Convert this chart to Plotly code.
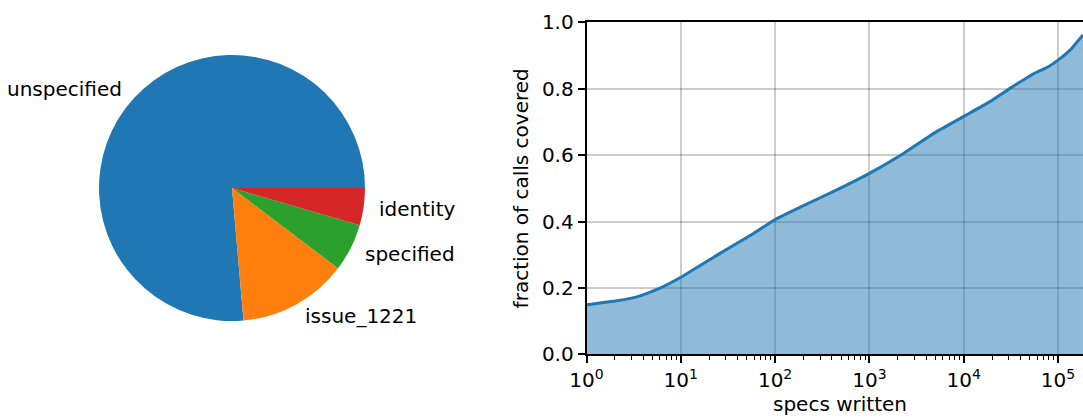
import math
import plotly.graph_objects as go

# ---- data ----
pie_labels = ["unspecified", "issue_1221", "specified", "identity"]
pie_values = [76.3, 13.3, 5.8, 4.5]
pie_colors = ["#1f77b4", "#ff7f0e", "#2ca02c", "#d62728"]

specs_written = [1, 2.1, 3.7, 6, 10, 26, 59, 100, 200, 450, 1000, 2300,
                 5100, 10700, 19000, 31000, 57500, 79000, 100000, 135000,
                 184000]
fraction_covered = [0.149, 0.161, 0.176, 0.199, 0.232, 0.304, 0.364, 0.406,
                    0.448, 0.495, 0.545, 0.605, 0.670, 0.721, 0.761, 0.801,
                    0.848, 0.866, 0.886, 0.917, 0.962]

x_tickvals = [1, 10, 100, 1000, 10000, 100000]
x_ticktext = ["10<sup>0</sup>", "10<sup>1</sup>", "10<sup>2</sup>",
              "10<sup>3</sup>", "10<sup>4</sup>", "10<sup>5</sup>"]
y_tickvals = [0.0, 0.2, 0.4, 0.6, 0.8, 1.0]

W, H = 1083, 417
FONT = "DejaVu Sans"

# pie geometry (pixels)
pcx, pcy, pr = 232.0, 188.0, 133.0

total = sum(pie_values)
# plotly's counterclockwise mode puts the first slice clockwise of `rotation`;
# shift so the first slice starts at 3 o'clock and runs counterclockwise
rot = 90 - 360.0 * pie_values[0] / total

fig = go.Figure()

fig.add_trace(go.Pie(
    labels=pie_labels, values=pie_values, sort=False,
    direction="counterclockwise", rotation=rot,
    marker=dict(colors=pie_colors, line=dict(width=0)),
    textinfo="none", hoverinfo="label+percent", showlegend=False,
    domain=dict(x=[(pcx - pr) / W, (pcx + pr) / W],
                y=[(H - pcy - pr) / H, (H - pcy + pr) / H]),
))

# pie labels at 1.1 R, matplotlib style
start = 0.0
for lab, v in zip(pie_labels, pie_values):
    mid = (start + v / 2) / total * 2 * math.pi
    start += v
    lx = pcx + 1.1 * pr * math.cos(mid)
    ly = pcy - 1.1 * pr * math.sin(mid)
    fig.add_annotation(
        x=lx / W, y=(H - ly) / H, xref="paper", yref="paper",
        text=lab, showarrow=False,
        xanchor="left" if math.cos(mid) > 0 else "right", yanchor="middle",
        font=dict(family=FONT, size=20, color="black"))

fig.add_trace(go.Scatter(
    x=specs_written, y=fraction_covered, mode="lines",
    line=dict(color="#1f77b4", width=3, shape="spline", smoothing=0.4),
    fill="tozeroy", fillcolor="rgba(31,119,180,0.5)", showlegend=False,
))

minor_vals = [m * 10 ** k for k in range(0, 6) for m in range(2, 10)]

left_px, top_px, bottom_px = 586.5, 22.3, 354.3
fig.update_xaxes(
    type="log", range=[0, (W - left_px) / 94.3],
    domain=[left_px / W, 1.0], automargin=False,
    tickvals=x_tickvals, ticktext=x_ticktext,
    ticks="outside", ticklen=7, tickwidth=1.6, tickcolor="black",
    showline=True, linecolor="black", linewidth=1.6, mirror=True,
    showgrid=True, gridcolor="rgba(0,0,0,0.2)", gridwidth=1.5,
    zeroline=False,
    tickfont=dict(family=FONT, size=20, color="black"),
    minor=dict(tickvals=minor_vals, ticks="outside", ticklen=4,
               tickwidth=1.2, tickcolor="black", showgrid=False),
)
fig.update_yaxes(
    range=[0, 1], domain=[(H - bottom_px) / H, (H - top_px) / H],
    automargin=False,
    tickvals=y_tickvals, tickformat=".1f",
    ticks="outside", ticklen=7, tickwidth=1.6, tickcolor="black",
    showline=True, linecolor="black", linewidth=1.6, mirror=False,
    showgrid=True, gridcolor="rgba(0,0,0,0.2)", gridwidth=1.5,
    zeroline=False,
    tickfont=dict(family=FONT, size=20, color="black"),
    title=dict(text="fraction of calls covered", standoff=8,
               font=dict(family=FONT, size=20, color="black")),
)

fig.add_annotation(
    x=840 / W, y=(H - 404) / H, xref="paper", yref="paper",
    text="specs written", showarrow=False, xanchor="center", yanchor="middle",
    font=dict(family=FONT, size=20, color="black"))

fig.update_layout(
    width=W, height=H, margin=dict(l=0, r=0, t=0, b=0, autoexpand=False),
    paper_bgcolor="white", plot_bgcolor="white",
    font=dict(family=FONT, size=20, color="black"),
)

fig.write_html(
    "out.html",
    config={"displayModeBar": False},
    post_script="document.body.style.margin='0';document.body.style.overflow='hidden';",
)
